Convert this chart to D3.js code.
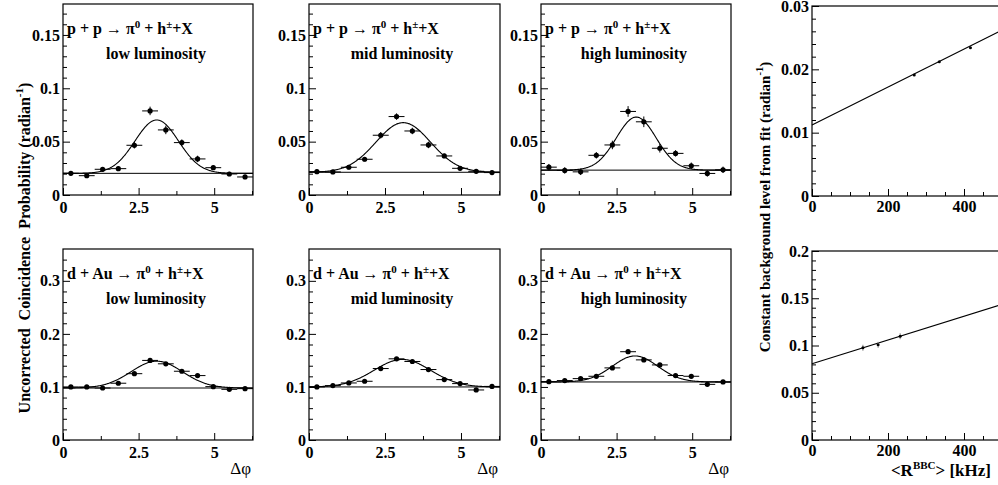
<!DOCTYPE html>
<html>
<head>
<meta charset="utf-8">
<script src="https://cdn.jsdelivr.net/npm/d3@7"></script>
<style>
  body { margin: 0; background: #fff; }
  svg { display: block; }
  text { font-family: "Liberation Serif", "Times New Roman", serif; font-weight: bold; fill: #000; }
</style>
</head>
<body>
<div id="chart"></div>
<script>
// delta-phi bin centres (12 bins over 0..2pi) and half bin width
const phiBins = [0.26, 0.785, 1.31, 1.83, 2.36, 2.88, 3.40, 3.93, 4.45, 4.97, 5.50, 6.02];
const binHalfWidth = 0.262;

// coincidence probability per bin
const ppLow   = [0.0203, 0.0181, 0.0241, 0.0247, 0.0466, 0.0788, 0.0610, 0.0491, 0.0338, 0.0256, 0.0197, 0.0169];
const ppMid   = [0.0219, 0.0216, 0.0260, 0.0335, 0.0560, 0.0735, 0.0600, 0.0469, 0.0366, 0.0250, 0.0222, 0.0210];
const ppHigh  = [0.0261, 0.0230, 0.0217, 0.0372, 0.0469, 0.0783, 0.0686, 0.0438, 0.0390, 0.0274, 0.0202, 0.0236];
const dauLow  = [0.1000, 0.1000, 0.0980, 0.1070, 0.1250, 0.1500, 0.1436, 0.1296, 0.1214, 0.1006, 0.0955, 0.0968];
const dauMid  = [0.1000, 0.1025, 0.1075, 0.1107, 0.1347, 0.1530, 0.1480, 0.1328, 0.1138, 0.1063, 0.0943, 0.1010];
const dauHigh = [0.1100, 0.1120, 0.1157, 0.1201, 0.1359, 0.1664, 0.1510, 0.1415, 0.1215, 0.1201, 0.1049, 0.1094];

// statistical errors
const ppLowErr   = [0.002, 0.002, 0.002, 0.002, 0.003, 0.004, 0.004, 0.003, 0.003, 0.002, 0.002, 0.002];
const ppMidErr   = [0.002, 0.002, 0.002, 0.002, 0.003, 0.003, 0.003, 0.003, 0.002, 0.002, 0.002, 0.002];
const ppHighErr  = [0.003, 0.003, 0.003, 0.003, 0.004, 0.005, 0.005, 0.004, 0.003, 0.003, 0.003, 0.003];
const dauLowErr  = [0.003, 0.003, 0.003, 0.003, 0.003, 0.004, 0.003, 0.003, 0.003, 0.003, 0.003, 0.003];
const dauMidErr  = [0.003, 0.003, 0.003, 0.003, 0.003, 0.003, 0.003, 0.003, 0.003, 0.003, 0.003, 0.003];
const dauHighErr = [0.003, 0.003, 0.003, 0.003, 0.003, 0.004, 0.003, 0.003, 0.003, 0.003, 0.003, 0.003];

// gaussian + constant fit parameters, one per panel (ppLow, ppMid, ppHigh, dauLow, dauMid, dauHigh)
const fitConst = [0.0203, 0.0213, 0.0233, 0.0980, 0.1000, 0.1094];
const fitAmp   = [0.0500, 0.0465, 0.0497, 0.0506, 0.0518, 0.0490];
const fitMean  = [3.10, 3.10, 3.15, 3.10, 3.07, 3.11];
const fitSigma = [0.72, 0.90, 0.66, 0.85, 0.93, 0.75];

const systems = ["p + p", "p + p", "p + p", "d + Au", "d + Au", "d + Au"];
const lumiLabels = ["low luminosity", "mid luminosity", "high luminosity"];

// background level vs BBC rate
const ppRate = [269, 335, 417];
const ppBkg = [0.0191, 0.0212, 0.0234];
const ppBkgErr = [0.0013, 0.0012, 0.0014];
const dauRate = [134, 174, 232];
const dauBkg = [0.0976, 0.1007, 0.1098];
const dauBkgErr = [0.0008, 0.0008, 0.0008];
const bkgFitIntercept = [0.0112, 0.0807];
const bkgFitSlope = [3.0e-5, 1.257e-4];

const topTicks = [0, 0.05, 0.1, 0.15];
const bottomTicks = [0, 0.1, 0.2, 0.3];
const phiTicks = [0, 2.5, 5];

// ---------------------------------------------------------------
const W = 998, H = 485;
const svg = d3.select("#chart").append("svg").attr("width", W).attr("height", H);

const cols = [{ x0: 63, x1: 253 }, { x0: 309, x1: 500 }, { x0: 541, x1: 731 }];
const rows = [
  { y0: 4, y1: 195, ymax: 0.179, major: topTicks, minorStep: 0.01 },
  { y0: 249, y1: 440, ymax: 0.36, major: bottomTicks, minorStep: 0.02 }
];

const panelData = [ppLow, ppMid, ppHigh, dauLow, dauMid, dauHigh];
const panelErr = [ppLowErr, ppMidErr, ppHighErr, dauLowErr, dauMidErr, dauHighErr];

const fmt = d => d === 0 ? "0" : String(+d.toFixed(4));

function drawAxes(g, x, y, xMajor, xMinor, yMajor, yMinor, xPad) {
  g.append("g").attr("transform", `translate(0,${y.range()[0]})`)
    .call(d3.axisBottom(x).tickValues(xMinor).tickSize(-4).tickFormat(""))
    .call(a => a.select(".domain").remove());
  g.append("g").attr("transform", `translate(0,${y.range()[0]})`)
    .call(d3.axisBottom(x).tickValues(xMajor).tickSize(-7).tickPadding(xPad).tickFormat(fmt))
    .call(a => a.select(".domain").remove())
    .call(a => a.selectAll("text").attr("font-size", 16).attr("font-family", null).attr("dy", "0.85em"));
  g.append("g").attr("transform", `translate(${x.range()[0]},0)`)
    .call(d3.axisLeft(y).tickValues(yMinor).tickSize(-4).tickFormat(""))
    .call(a => a.select(".domain").remove());
  g.append("g").attr("transform", `translate(${x.range()[0]},0)`)
    .call(d3.axisLeft(y).tickValues(yMajor).tickSize(-7).tickPadding(3).tickFormat(fmt))
    .call(a => a.select(".domain").remove())
    .call(a => a.selectAll("text").attr("font-size", 16).attr("font-family", null));
  g.selectAll(".tick line").attr("stroke", "#000");
}

panelData.forEach((vals, i) => {
  const col = cols[i % 3], row = rows[Math.floor(i / 3)];
  const x = d3.scaleLinear().domain([0, 2 * Math.PI]).range([col.x0, col.x1]);
  const y = d3.scaleLinear().domain([0, row.ymax]).range([row.y1, row.y0]);
  const g = svg.append("g");

  const xMinor = d3.range(0, 6.3, 1.25).filter(v => !phiTicks.includes(v));
  const yMinor = d3.range(0, row.ymax, row.minorStep).filter(v => !row.major.some(m => Math.abs(m - v) < 1e-9));
  drawAxes(g, x, y, phiTicks, xMinor, row.major, yMinor, 4);

  // frame
  g.append("rect").attr("x", col.x0).attr("y", row.y0)
    .attr("width", col.x1 - col.x0).attr("height", row.y1 - row.y0)
    .attr("fill", "none").attr("stroke", "#000").attr("stroke-width", 1.2);

  // constant level
  g.append("line").attr("x1", x(0)).attr("x2", x(2 * Math.PI))
    .attr("y1", y(fitConst[i])).attr("y2", y(fitConst[i]))
    .attr("stroke", "#000").attr("stroke-width", 1);

  // gaussian + constant fit
  const fx = d3.range(0, 2 * Math.PI + 0.001, 0.02);
  const fit = v => fitConst[i] + fitAmp[i] * Math.exp(-((v - fitMean[i]) ** 2) / (2 * fitSigma[i] ** 2));
  g.append("path")
    .attr("d", d3.line().x(v => x(v)).y(v => y(fit(v)))(fx))
    .attr("fill", "none").attr("stroke", "#000").attr("stroke-width", 1.1);

  // data points with error bars
  const err = panelErr[i];
  const pts = g.append("g");
  phiBins.forEach((c, k) => {
    pts.append("line").attr("x1", x(c - binHalfWidth)).attr("x2", x(c + binHalfWidth))
      .attr("y1", y(vals[k])).attr("y2", y(vals[k])).attr("stroke", "#000");
    pts.append("line").attr("x1", x(c)).attr("x2", x(c))
      .attr("y1", y(vals[k] - err[k])).attr("y2", y(vals[k] + err[k])).attr("stroke", "#000");
    pts.append("circle").attr("cx", x(c)).attr("cy", y(vals[k])).attr("r", 2.6).attr("fill", "#000");
  });

  // reaction label
  const t = g.append("text").attr("x", col.x0 + 4).attr("y", row.y0 + 30).attr("font-size", 16);
  t.append("tspan").text(systems[i] + " \u2192 \u03c0");
  t.append("tspan").attr("font-size", 11).attr("dy", -6).text("0");
  t.append("tspan").attr("dy", 6).text(" + h");
  t.append("tspan").attr("font-size", 11).attr("dy", -6).text("\u00b1");
  t.append("tspan").attr("dy", 6).text("+X");

  g.append("text").attr("x", col.x0 + 93).attr("y", row.y0 + 55)
    .attr("text-anchor", "middle").attr("font-size", 16).text(lumiLabels[i % 3]);

  if (i >= 3) {
    g.append("text").attr("x", col.x1 - 2).attr("y", row.y1 + 34)
      .attr("text-anchor", "end").attr("font-size", 17).style("font-weight", "normal").text("\u0394\u03c6");
  }
});

// ---- right column: background level vs rate ----
const rightPanels = [
  { y0: 6, y1: 196, ymax: 0.03, major: [0, 0.01, 0.02, 0.03], minorStep: 0.002, rate: ppRate, bkg: ppBkg, err: ppBkgErr },
  { y0: 251, y1: 440, ymax: 0.2, major: [0, 0.05, 0.1, 0.15, 0.2], minorStep: 0.01, rate: dauRate, bkg: dauBkg, err: dauBkgErr }
];
const rx0 = 812, rx1 = 1040;
rightPanels.forEach((p, i) => {
  const x = d3.scaleLinear().domain([0, 600]).range([rx0, rx1]);
  const y = d3.scaleLinear().domain([0, p.ymax]).range([p.y1, p.y0]);
  const g = svg.append("g");
  const xMinor = d3.range(50, 600, 50).filter(v => v % 200 !== 0);
  const yMinor = d3.range(0, p.ymax, p.minorStep).filter(v => !p.major.some(m => Math.abs(m - v) < 1e-9));
  drawAxes(g, x, y, [0, 200, 400], xMinor, p.major, yMinor, 2);

  g.append("rect").attr("x", rx0).attr("y", p.y0)
    .attr("width", rx1 - rx0).attr("height", p.y1 - p.y0)
    .attr("fill", "none").attr("stroke", "#000").attr("stroke-width", 1.2);

  g.append("line")
    .attr("x1", x(0)).attr("y1", y(bkgFitIntercept[i]))
    .attr("x2", x(600)).attr("y2", y(bkgFitIntercept[i] + bkgFitSlope[i] * 600))
    .attr("stroke", "#000").attr("stroke-width", 1.1);

  p.rate.forEach((r, k) => {
    const cy = y(p.bkg[k]);
    g.append("line").attr("x1", x(r)).attr("x2", x(r))
      .attr("y1", y(p.bkg[k] + p.err[k])).attr("y2", Math.min(cy - 3, y(p.bkg[k] + p.err[k])))
      .attr("stroke", "#888");
    g.append("line").attr("x1", x(r)).attr("x2", x(r))
      .attr("y1", Math.max(cy + 3, y(p.bkg[k] - p.err[k]))).attr("y2", y(p.bkg[k] - p.err[k]))
      .attr("stroke", "#888");
    g.append("circle").attr("cx", x(r)).attr("cy", cy).attr("r", 1.5).attr("fill", "#000");
  });
});

// ---- axis titles ----
const lt = svg.append("text").attr("transform", "translate(30,248) rotate(-90)")
  .attr("text-anchor", "middle").attr("font-size", 16);
lt.append("tspan").text("Uncorrected\u00a0 Coincidence\u00a0 Probability (radian");
lt.append("tspan").attr("font-size", 11).attr("dy", -7).text("-1");
lt.append("tspan").attr("dy", 7).text(")");

const rt = svg.append("text").attr("transform", "translate(770,207) rotate(-90)")
  .attr("text-anchor", "middle").attr("font-size", 15);
rt.append("tspan").text("Constant background level from fit (radian");
rt.append("tspan").attr("font-size", 10.5).attr("dy", -7).text("-1");
rt.append("tspan").attr("dy", 7).text(")");

const xt = svg.append("text").attr("x", 991).attr("y", 476).attr("text-anchor", "end").attr("font-size", 17);
xt.append("tspan").text("<R");
xt.append("tspan").attr("font-size", 11).attr("dy", -7).text("BBC");
xt.append("tspan").attr("dy", 7).text("> [kHz]");
</script>
</body>
</html>
